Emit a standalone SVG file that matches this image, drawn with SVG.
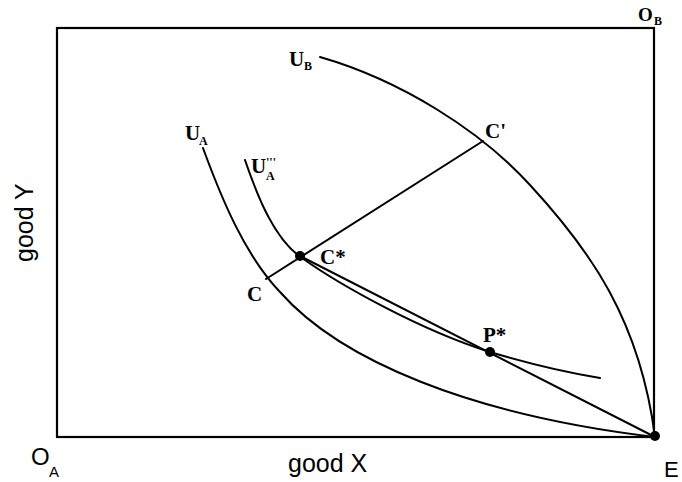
<svg xmlns="http://www.w3.org/2000/svg" width="682" height="482" viewBox="0 0 682 482">
<style>
.ln{fill:none;stroke:#000;stroke-width:2;stroke-linecap:round;stroke-linejoin:round}
.box{fill:none;stroke:#000;stroke-width:2.2}
.dot{fill:#000}
.lb{font-family:"Liberation Serif","Times New Roman",serif;font-weight:bold;font-size:21px;fill:#000}
.sb{font-family:"Liberation Serif","Times New Roman",serif;font-weight:bold;font-size:12px;fill:#000}
.ax{font-family:"Liberation Sans",Arial,sans-serif;font-size:25px;fill:#000}
</style>
<rect width="682" height="482" fill="#fff"/>
<g id="box"><rect class="box" x="57" y="28" width="597" height="409"/></g>
<g id="connectors">
<path id="UB" class="ln" d="M320,57 C400,80 480,130 530,185 C590,250 640,320 655,437"/>
<path id="UA" class="ln" d="M203,148 C222,200 245,255 280,292 C340,360 470,415 655,437"/>
<path id="UA3" class="ln" d="M245,160 C258,198 275,240 302,258 C340,285 420,330 490,352 C530,364 570,373 600,378"/>
<path id="contract" class="ln" d="M266,279 L483,141"/>
<path id="budget" class="ln" d="M300,256 L655,437"/>
</g>
<g id="Cstar"><circle class="dot" cx="300" cy="256" r="5"/><text class="lb" x="320" y="264">C*</text></g>
<g id="Pstar"><circle class="dot" cx="490" cy="352" r="5"/><text class="lb" x="483" y="342">P*</text></g>
<g id="E"><circle class="dot" cx="655" cy="436" r="5"/><text class="ax" x="664" y="477" style="font-size:22px">E</text></g>
<g id="C"><text class="lb" x="247" y="301">C</text></g>
<g id="Cprime"><text class="lb" x="485" y="138">C'</text></g>
<g id="OB"><text class="lb" x="638" y="21" style="font-size:19px">O</text><text class="sb" x="654" y="25">B</text></g>
<g id="UBlab"><text class="lb" x="289" y="66">U</text><text class="sb" x="304" y="70">B</text></g>
<g id="UAlab"><text class="lb" x="185" y="140">U</text><text class="sb" x="199" y="145">A</text></g>
<g id="UA3lab"><text class="lb" x="251" y="173">U</text><text class="sb" x="266" y="166">'''</text><text class="sb" x="266" y="180">A</text></g>
<g id="OA"><text class="ax" x="31" y="465" style="font-size:24px">O</text><text class="ax" x="49" y="477" style="font-size:15px">A</text></g>
<g id="xlab"><text class="ax" x="288" y="472">good X</text></g>
<g id="ylab"><text class="ax" transform="translate(33,262) rotate(-90)">good Y</text></g>
</svg>
